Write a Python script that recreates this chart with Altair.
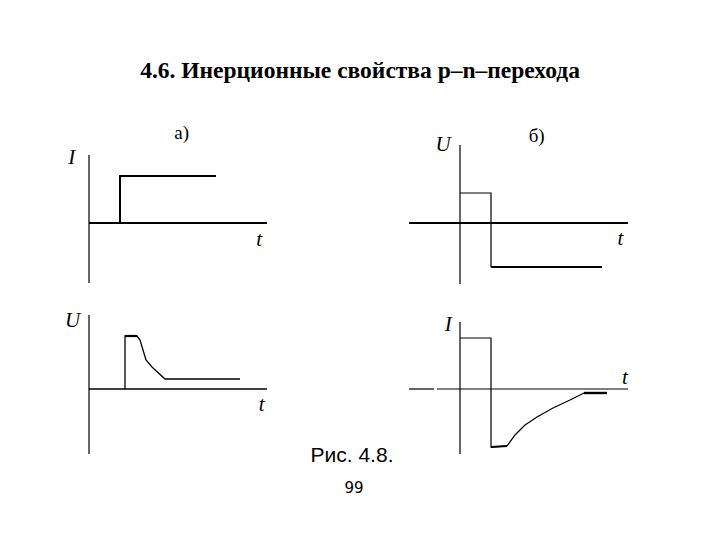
import altair as alt
import pandas as pd

# ---------------- data (time t and signal value, arbitrary units) ----------------
# а) top: current step I(t)
a_top_t = [3.1, 3.1, 12.7]
a_top_i = [0.0, 4.7, 4.7]
# а) bottom: voltage response U(t)
a_bot_t = [3.6, 3.6, 4.8, 5.1, 5.7, 6.3, 7.6, 15.1]
a_bot_u = [0.0, 5.3, 5.3, 4.9, 2.9, 2.2, 1.0, 1.0]
a_bot_peak_t = [3.6, 4.8]
a_bot_peak_u = [5.3, 5.3]
# б) top: voltage switching U(t)
b_top_t = [0.0, 3.1, 3.1]
b_top_u = [3.0, 3.0, -4.4]
b_top_low_t = [3.1, 14.2]
b_top_low_u = [-4.4, -4.4]
# б) bottom: current response I(t)
b_bot_t = [0.0, 3.1, 3.1, 4.7, 5.5, 6.5, 7.7, 9.3, 11.0, 12.4, 14.7]
b_bot_i = [5.1, 5.1, -5.8, -5.7, -4.6, -3.6, -2.8, -1.9, -1.1, -0.4, -0.4]
b_bot_thick1_t = [3.1, 4.7]
b_bot_thick1_i = [-5.8, -5.7]
b_bot_thick2_t = [12.4, 14.7]
b_bot_thick2_i = [-0.4, -0.4]

# axis extents (t axis start/end, vertical axis bottom/top)
a_top_axes = {"t": [[0.0, 17.8]], "v": [-6.0, 6.8]}
b_top_axes = {"t": [[-5.1, 16.8]], "v": [-6.1, 7.8]}
a_bot_axes = {"t": [[0.0, 17.8]], "v": [-6.5, 7.4]}
b_bot_axes = {"t": [[-5.1, -2.6], [-2.3, 16.8]], "v": [-6.5, 6.7]}

TITLE = "4.6. Инерционные свойства p–n–перехода"
FIG = "Рис. 4.8."
PAGE = "99"


def panel(xdom, ydom, w, h, lines, axes, hw, vw, labels, extra=()):
    xs = alt.Scale(domain=xdom, nice=False, zero=False)
    ys = alt.Scale(domain=ydom, nice=False, zero=False)
    layers = []
    hdf = pd.DataFrame({"t0": [s[0] for s in axes["t"]],
                        "t1": [s[1] for s in axes["t"]],
                        "v": [0.0] * len(axes["t"])})
    layers.append(alt.Chart(hdf).mark_rule(color="black", strokeWidth=hw).encode(
        x=alt.X("t0:Q", scale=xs, axis=None), x2="t1:Q",
        y=alt.Y("v:Q", scale=ys, axis=None)))
    vdf = pd.DataFrame({"t": [0.0], "v0": [axes["v"][0]], "v1": [axes["v"][1]]})
    layers.append(alt.Chart(vdf).mark_rule(color="black", strokeWidth=vw).encode(
        x=alt.X("t:Q", scale=xs, axis=None),
        y=alt.Y("v0:Q", scale=ys, axis=None), y2="v1:Q"))
    for t, v, sw in lines:
        df = pd.DataFrame({"t": t, "v": v, "i": list(range(len(t)))})
        layers.append(alt.Chart(df).mark_line(color="black", strokeWidth=sw,
                                              strokeJoin="miter").encode(
            x=alt.X("t:Q", scale=xs, axis=None),
            y=alt.Y("v:Q", scale=ys, axis=None),
            order="i:Q"))
    for s, px, py, italic, size in labels:
        layers.append(alt.Chart(pd.DataFrame({"s": [s]})).mark_text(
            font="Liberation Serif", fontSize=size,
            fontStyle="italic" if italic else "normal",
            color="black", align="center", baseline="middle").encode(
            x=alt.value(px), y=alt.value(py), text="s:N"))
    for s, px, py, font, size in extra:
        layers.append(alt.Chart(pd.DataFrame({"s": [s]})).mark_text(
            font=font, fontSize=size, color="black",
            align="center", baseline="alphabetic").encode(
            x=alt.value(px), y=alt.value(py), text="s:N"))
    return alt.layer(*layers).properties(width=w, height=h)


a_top = panel([-2.9, 19.1], [-6.7, 11.1], 220, 178,
              [(a_top_t, a_top_i, 2)], a_top_axes, 2.2, 1.2,
              [("I", 11.7, 45.5, True, 21), ("t", 199.2, 128, True, 21),
               ("а)", 121.7, 20.5, False, 19)])
b_top = panel([-6, 18], [-6.7, 11.1], 240, 178,
              [(b_top_t, b_top_u, 1.2), (b_top_low_t, b_top_low_u, 2)],
              b_top_axes, 2.2, 1.2,
              [("U", 43, 33, True, 21), ("t", 220.3, 126.7, True, 21),
               ("б)", 136.7, 23.8, False, 19)])
a_bot = panel([-2.9, 19.1], [-6.6, 8.4], 220, 150,
              [(a_bot_t, a_bot_u, 1.3), (a_bot_peak_t, a_bot_peak_u, 2.2)],
              a_bot_axes, 1.4, 1.2,
              [("U", 12.5, 15.5, True, 21), ("t", 201.7, 100, True, 21)],
              extra=[(FIG, 292, 157, "Liberation Sans", 21),
                     (PAGE, 294, 188, "DejaVu Sans", 15)])
b_bot = panel([-6, 18], [-6.6, 8.4], 240, 150,
              [(b_bot_t, b_bot_i, 1.2), (b_bot_thick1_t, b_bot_thick1_i, 2.2),
               (b_bot_thick2_t, b_bot_thick2_i, 2.4)],
              b_bot_axes, 1.2, 1.2,
              [("I", 48.3, 20, True, 21), ("t", 225, 72.5, True, 21)])

chart = alt.concat(
    a_top, b_top, a_bot, b_bot, columns=2,
    spacing={"row": 15, "column": 120}, bounds="flush",
    title=alt.TitleParams(TITLE, font="Liberation Serif", fontSize=23.5,
                          fontWeight="bold", color="black", anchor="middle",
                          offset=30, dx=10),
    padding={"left": 52, "top": 50, "right": 10, "bottom": 10},
    background="white",
).configure_view(stroke=None)

chart.save("out.html", embed_options={"renderer": "svg", "actions": False})
